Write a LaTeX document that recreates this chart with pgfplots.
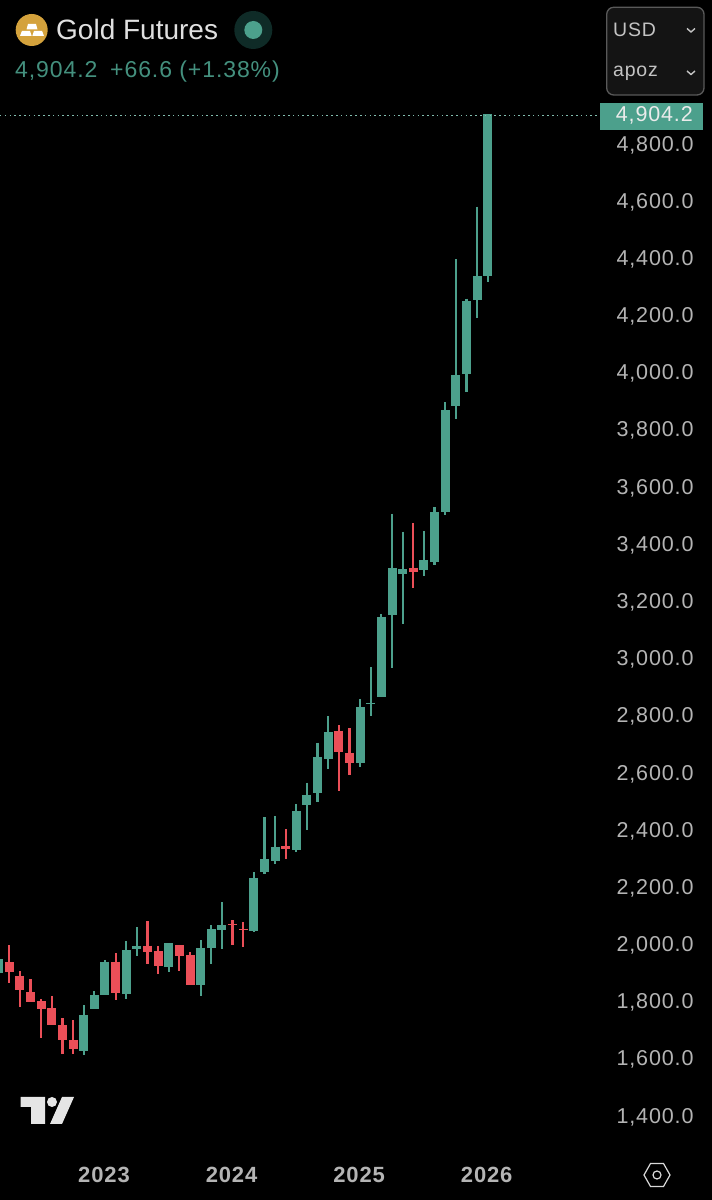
\documentclass[border=0pt]{standalone}
\usepackage{pgfplots}
\usepackage{pgfplotstable}
\usepackage{fontspec}
\pgfplotsset{compat=1.18}
\setmainfont{Liberation Sans}
\newfontfamily\lab[LetterSpace=4]{Liberation Sans}
\definecolor{upc}{HTML}{4CA08C}
\definecolor{dnc}{HTML}{EB4F58}
\definecolor{axc}{HTML}{B4B4B4}
\definecolor{goldc}{HTML}{D4A23C}
\definecolor{dotbg}{HTML}{0F2B27}
\pgfplotstableread{
i hi top bot lo
-1 1960 1949 1900 1890
7 1787 1754 1628 1614
8 1836 1822 1775 1773
9 1946 1940 1824 1824
11 2011 1981 1827 1808
12 2060 1994 1984 1961
15 2006 2004 1922 1904
18 2015 1989 1858 1819
19 2067 2053 1988 1932
20 2148 2068 2050 1984
23 2252 2233 2046 2044
24 2445 2299 2252 2245
25 2449 2342 2291 2281
27 2492 2468 2330 2324
28 2566 2524 2487 2400
29 2706 2656 2530 2500
30 2799 2744 2650 2615
33 2859 2831 2636 2622
34 2969 2846 2841 2799
35 3156 3147 2867 2865
36 3507 3316 3152 2966
37 3444 3312 3295 3122
39 3447 3345 3311 3289
40 3531 3513 3338 3328
41 3897 3870 3513 3503
42 4397 3992 3884 3839
43 4259 4251 3997 3934
44 4581 4337 4254 4191
45 4904.2 4904.2 4338 4317
}\upT
\pgfplotstableread{
i hi top bot lo
0 1998 1938 1905 1866
1 1907 1891 1842 1781
2 1878 1834 1800 1800
3 1809 1803 1775 1674
4 1820 1777 1718 1718
5 1742 1718 1666 1618
6 1735 1665 1634 1617
10 1970 1940 1830 1806
13 2081 1996 1975 1932
14 1995 1977 1925 1897
16 1999 1999 1960 1908
17 1974 1963 1859 1859
21 2085 2072 2067 1999
22 2079 2055 2051 1992
26 2403 2344 2334 2299
31 2767 2748 2674 2537
32 2756 2670 2636 2592
38 3473 3318 3304 3246
}\dnT
\begin{document}
\begin{tikzpicture}
\useasboundingbox (0,0) rectangle (712pt,1200pt);
\begin{axis}[
  at={(0,0)}, anchor=south west,
  width=712pt, height=1200pt, scale only axis,
  xmin=-0.875, xmax=66.1, ymin=1106.2, ymax=5303.7,
  axis background/.style={fill=black},
  axis line style={draw=none},
  major tick length=0pt, minor tick length=0pt,
  tick style={draw=none},
  xtick={9,21,33,45},
  xticklabels={2023,2024,2025,2026},
  xticklabel style={anchor=center, yshift=25pt, xshift=-1pt, text=axc, font=\lab\bfseries\fontsize{22}{24}\selectfont},
  ytick={1400,1600,1800,2000,2200,2400,2600,2800,3000,3200,3400,3600,3800,4000,4200,4400,4600,4800},
  yticklabel pos=right,
  yticklabel style={anchor=east, xshift=-15pt, yshift=-1pt, text=axc, font=\lab\fontsize{21.5}{24}\selectfont,
    /pgf/number format/.cd, fixed, fixed zerofill, precision=1, 1000 sep={,}, assume math mode=true},
]
\addplot[draw=none, forget plot, error bars/.cd, y dir=minus, y explicit, error mark=none,
  error bar style={line width=2.2pt, color=upc}]
  table[x=i, y=hi, y error minus expr=\thisrow{hi}-\thisrow{lo}] {\upT};
\addplot[draw=none, forget plot, error bars/.cd, y dir=minus, y explicit, error mark=none,
  error bar style={line width=9pt, color=upc}]
  table[x=i, y=top, y error minus expr=\thisrow{top}-\thisrow{bot}] {\upT};
\addplot[draw=none, forget plot, error bars/.cd, y dir=minus, y explicit, error mark=none,
  error bar style={line width=2.2pt, color=dnc}]
  table[x=i, y=hi, y error minus expr=\thisrow{hi}-\thisrow{lo}] {\dnT};
\addplot[draw=none, forget plot, error bars/.cd, y dir=minus, y explicit, error mark=none,
  error bar style={line width=9pt, color=dnc}]
  table[x=i, y=top, y error minus expr=\thisrow{top}-\thisrow{bot}] {\dnT};
\addplot[forget plot, color=upc!70!white, line width=1.5pt, dash pattern=on 1.5pt off 3.3pt] coordinates {(-0.875,4900) (55.6,4900)};
\end{axis}
\begin{scope}[x=1pt,y=-1pt,shift={(0pt,1200pt)}]
  % price tag
  \fill[upc] (600.3,102.7) rectangle (703,130);
  \node[anchor=east, inner sep=0pt, text=white!92!black, font=\lab\fontsize{21.5}{24}\selectfont] at (693,115.5) {4,904.2};
  % selector box
  \draw[draw=black!65!white, fill=black!92!white, line width=1.3pt, rounded corners=7pt] (606.7,7.3) rectangle (704,95);
  \node[anchor=west, inner sep=0pt, text=axc!80!white, font=\lab\fontsize{19.5}{24}\selectfont] at (613,30) {USD};
  \node[anchor=west, inner sep=0pt, text=axc!80!white, font=\lab\fontsize{19.5}{24}\selectfont] at (613,73) {apoz};
  \draw[axc!80!white, line width=1.4pt] (687,28.5) -- (691,32) -- (695,28.5);
  \draw[axc!80!white, line width=1.4pt] (687,71) -- (691,74.5) -- (695,71);
  % gold icon
  \fill[goldc] (31.7,30) circle (16pt);
  \fill[white] (28,24) -- (36,24) -- (37.5,29.5) -- (26.5,29.5) -- cycle;
  \fill[white] (22,30.8) -- (30,30.8) -- (31.7,36) -- (20,36) -- cycle;
  \fill[white] (34,30.8) -- (42,30.8) -- (44,36) -- (32.3,36) -- cycle;
  \node[anchor=base west, inner sep=0pt, text=white!88!black, font=\fontsize{28}{30}\selectfont] at (56,40) {Gold Futures};
  \fill[dotbg] (253.3,30) circle (19pt);
  \fill[upc] (253.3,30) circle (9pt);
  \node[anchor=base west, inner sep=0pt, text=upc!90!black, font=\lab\fontsize{23}{24}\selectfont] at (15,78) {4,904.2};
  \node[anchor=base west, inner sep=0pt, text=upc!90!black, font=\lab\fontsize{23}{24}\selectfont] at (110,78) {+66.6 (+1.38\%)};
  % logo
  \fill[white!90!black] (20.5,1097) -- (45,1097) -- (45,1124) -- (31,1124) -- (31,1107) -- (20.5,1107) -- cycle;
  \fill[white!90!black] (52,1102) circle (5pt);
  \fill[white!90!black] (62,1097) -- (74,1097) -- (62,1124) -- (50,1124) -- cycle;
  % settings
  \draw[white!85!black, line width=1.2pt] (644,1175) -- (650.5,1163.5) -- (663.5,1163.5) -- (670,1175) -- (663.5,1186.5) -- (650.5,1186.5) -- cycle;
  \draw[white!85!black, line width=1.2pt] (657,1175) circle (4pt);
\end{scope}
\end{tikzpicture}
\end{document}
